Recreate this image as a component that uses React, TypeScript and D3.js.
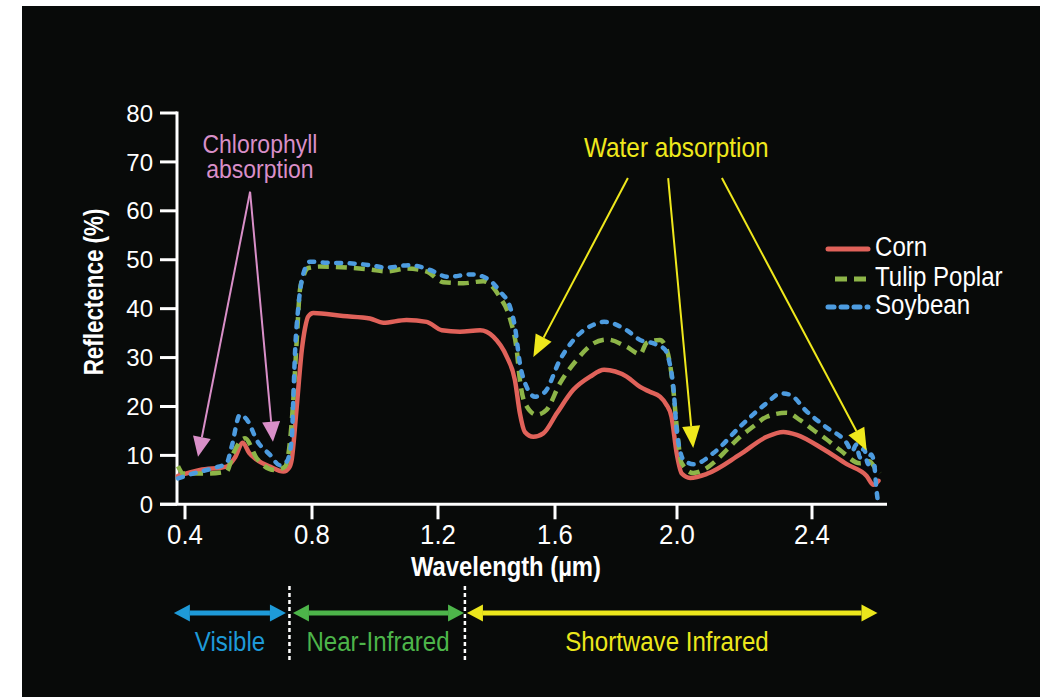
import React from "react";
import * as d3 from "d3";

const W = 1040;
const H = 697;

// ---------- data ----------
const xTickValues = [0.4, 0.8, 1.2, 1.6, 2.0, 2.4];
const yTickValues = [0, 10, 20, 30, 40, 50, 60, 70, 80];

const cornWl = [0.378,0.447,0.531,0.557,0.582,0.602,0.626,0.668,0.710,0.728,0.736,0.752,0.768,0.778,0.788,0.804,0.899,0.984,1.026,1.100,1.164,1.213,1.275,1.344,1.389,1.435,1.463,1.480,1.497,1.526,1.560,1.606,1.660,1.715,1.761,1.835,1.879,1.911,1.944,1.964,1.982,1.999,2.014,2.039,2.088,2.187,2.266,2.315,2.355,2.433,2.503,2.562,2.582,2.597];
const cornRef = [5.8,7.0,7.7,9.5,12.6,10.5,9.1,7.7,6.7,7.5,9.1,20,31.6,36,38.4,39.1,38.5,38.0,37.1,37.7,37.3,35.6,35.3,35.6,34.3,30.2,25.4,18.6,14.8,13.8,14.5,18.6,23.4,26.1,27.5,26.1,24.0,23.0,22.0,20.5,17.9,10.4,6.3,5.4,6.2,10.2,13.8,14.8,14.2,11.3,8.2,5.8,4.0,4.8];

const tulipWl = [0.378,0.395,0.468,0.531,0.552,0.589,0.626,0.683,0.715,0.731,0.741,0.752,0.762,0.775,0.788,0.825,0.910,0.984,1.037,1.100,1.164,1.218,1.287,1.355,1.412,1.446,1.469,1.480,1.497,1.537,1.571,1.616,1.671,1.726,1.770,1.835,1.879,1.901,1.944,1.967,1.988,1.999,2.014,2.048,2.078,2.118,2.147,2.187,2.226,2.266,2.325,2.365,2.404,2.433,2.483,2.542,2.570,2.591,2.601];
const tulipRef = [7.8,6.3,6.3,6.7,10.4,13.5,9.4,7.0,7.7,13.1,21.3,33.6,43.8,47,48.3,48.6,48.4,48.0,47.6,48.2,47.6,45.4,45.2,45.6,42.3,38.0,31.6,25.4,20.7,18.3,19.3,24.7,29.5,32.9,33.7,32.2,30.7,33.0,33.6,31.5,23.4,15.9,8.4,6.4,7.0,9.1,11.1,13.8,15.9,17.9,18.7,17.2,15.2,13.8,11.1,8.4,8.8,7.0,6.3];

const soyWl = [0.378,0.426,0.489,0.531,0.547,0.573,0.599,0.626,0.668,0.699,0.720,0.736,0.741,0.746,0.757,0.773,0.794,0.847,0.910,0.984,1.037,1.111,1.175,1.234,1.313,1.367,1.412,1.446,1.463,1.480,1.503,1.532,1.566,1.616,1.671,1.726,1.761,1.835,1.879,1.923,1.961,1.977,1.988,1.999,2.009,2.019,2.050,2.110,2.187,2.266,2.308,2.335,2.384,2.439,2.503,2.519,2.531,2.542,2.554,2.566,2.575,2.584,2.591,2.596];
const soyRef = [5.3,6.3,7.4,8.4,11.8,18.3,16.9,13.1,10.1,8.0,8.7,13.1,21.3,30.2,40.4,47.2,49.6,49.4,49.3,48.9,48.4,48.9,47.9,46.5,47.0,46.2,43.5,40.4,36.3,28.8,24.0,22.0,23.0,29.5,34.3,36.7,37.3,35.6,33.6,32.9,31.6,28.5,24.0,15.2,11.0,9.1,8.2,10.6,15.9,20.7,22.7,22.4,19.0,15.9,12.5,10.8,12.2,9.6,11.4,8.2,10.2,8.4,3.0,0.2];

const seriesNames = ["Corn", "Tulip Poplar", "Soybean"];

// spectral regions (µm)
const regionNames = ["Visible", "Near-Infrared", "Shortwave Infrared"];
const regionStart = [0.365, 0.740, 1.299];
const regionEnd = [0.718, 1.289, 2.594];
const regionBounds = [0.729, 1.292];

// annotations (data coordinates: µm, %)
const chloroApex = [0.605, 63.9];
const chloroTips = [[0.441, 9.7], [0.677, 12.8]];
const waterStarts = [[1.839, 66.7], [1.971, 66.7], [2.133, 66.7]];
const waterTips = [[1.526, 30.1], [2.048, 11.5], [2.562, 11.0]];

// ---------- styles ----------
const BG = "#080a09";
const SANS = "'Liberation Sans', Arial, Helvetica, sans-serif";
const seriesColors = ["#e0625a", "#8db548", "#4d9ce0"];
const PINK = "#d98fc8";
const YELLOW = "#efe81c";
const regionColors = ["#1e9ad8", "#4db54a", "#ece71c"];

const x = d3.scaleLinear().domain(xTickValues).range([185, 312, 438, 555, 677, 812]);
const y = d3.scaleLinear().domain([0, 80]).range([504.3, 113]);

function zip(a: number[], b: number[]) {
  return a.map((v, i) => [v, b[i]] as [number, number]);
}

const line = d3
  .line<[number, number]>()
  .x((d) => x(d[0]))
  .y((d) => y(d[1]))
  .curve(d3.curveMonotoneX);

function arrowHead(x1: number, y1: number, x2: number, y2: number, L: number, hw: number) {
  const dx = x2 - x1, dy = y2 - y1;
  const len = Math.hypot(dx, dy);
  const ux = dx / len, uy = dy / len;
  const bx = x2 - ux * L, by = y2 - uy * L;
  const nx = -uy, ny = ux;
  return {
    base: [bx, by],
    pts: `${x2},${y2} ${bx + nx * hw},${by + ny * hw} ${bx - nx * hw},${by - ny * hw}`,
  };
}

function Arrow({ from, to, color, width, L, hw }: any) {
  const x1 = x(from[0]), y1 = y(from[1]);
  const x2 = x(to[0]), y2 = y(to[1]);
  const h = arrowHead(x1, y1, x2, y2, L, hw);
  return (
    <g>
      <line x1={x1} y1={y1} x2={h.base[0]} y2={h.base[1]} stroke={color} strokeWidth={width} />
      <polygon points={h.pts} fill={color} />
    </g>
  );
}

// condensed text: horizontally compressed Liberation Sans
function CText({ x: tx, y: ty, sx = 0.86, rotate = 0, size, fill, anchor = "start", bold = false, children }: any) {
  return (
    <text
      transform={`translate(${tx},${ty}) rotate(${rotate}) scale(${sx},1)`}
      textAnchor={anchor}
      fill={fill}
      fontFamily={SANS}
      fontSize={size}
      fontWeight={bold ? "bold" : "normal"}
    >
      {children}
    </text>
  );
}

export default function App() {
  const series = [zip(cornWl, cornRef), zip(tulipWl, tulipRef), zip(soyWl, soyRef)];
  const dashes = [undefined, "11 7", "5 8.5"];
  const caps: any[] = ["round", "butt", "round"];
  const axisLeftX = 177;
  const y0 = y(0);
  const regionY = 613;

  return (
    <svg
      width={W}
      height={H}
      style={{ position: "absolute", left: 0, top: 0 }}
      xmlns="http://www.w3.org/2000/svg"
    >
      <rect x={0} y={0} width={W} height={H} fill="#ffffff" />
      <rect x={22} y={6} width={W - 22} height={H - 6} fill={BG} />

      {/* y axis */}
      <line x1={axisLeftX} y1={y(80) - 1.5} x2={axisLeftX} y2={y0} stroke="#fff" strokeWidth={3} />
      {yTickValues.map((t) => (
        <g key={"y" + t}>
          <line x1={160} x2={axisLeftX} y1={y(t)} y2={y(t)} stroke="#fff" strokeWidth={3} />
          <text
            x={153}
            y={y(t)}
            dy="0.36em"
            textAnchor="end"
            fill="#fff"
            fontFamily={SANS}
            fontSize={24}
          >
            {t}
          </text>
        </g>
      ))}

      {/* x axis */}
      <line x1={160} x2={887} y1={y0} y2={y0} stroke="#fff" strokeWidth={3} />
      {xTickValues.map((t) => (
        <g key={"x" + t}>
          <line x1={x(t)} x2={x(t)} y1={y0} y2={y0 + 15} stroke="#fff" strokeWidth={3} />
          <CText x={x(t)} y={544} sx={0.92} size={28} fill="#fff" anchor="middle">
            {d3.format(".1f")(t)}
          </CText>
        </g>
      ))}
      <CText x={506} y={576} sx={0.85} size={28} fill="#fff" anchor="middle" bold>
        Wavelength (µm)
      </CText>
      <CText x={103} y={292} sx={0.8} rotate={-90} size={28} fill="#fff" anchor="middle" bold>
        Reflectence (%)
      </CText>

      {/* series */}
      {series.map((s, i) => (
        <path
          key={seriesNames[i]}
          d={line(s) || ""}
          fill="none"
          stroke={seriesColors[i]}
          strokeWidth={4.5}
          strokeDasharray={dashes[i]}
          strokeLinecap={caps[i]}
          strokeLinejoin="round"
        />
      ))}

      {/* legend */}
      {seriesNames.map((n, i) => {
        const ly = [249, 279, 307][i];
        return (
          <g key={"lg" + n}>
            <line
              x1={i === 1 ? 835 : 828}
              x2={868}
              y1={ly}
              y2={ly}
              stroke={seriesColors[i]}
              strokeWidth={5}
              strokeDasharray={i === 0 ? undefined : i === 1 ? "12 7" : "6 7"}
              strokeLinecap={i === 1 ? "butt" : "round"}
            />
            <CText x={875} y={ly + 7} sx={0.86} size={28} fill="#fff">
              {n}
            </CText>
          </g>
        );
      })}

      {/* chlorophyll annotation */}
      <CText x={x(0.636)} y={y(71.8)} sx={0.92} size={25} fill={PINK} anchor="middle">
        Chlorophyll
      </CText>
      <CText x={x(0.636)} y={y(66.7)} sx={0.92} size={25} fill={PINK} anchor="middle">
        absorption
      </CText>
      {chloroTips.map((t, i) => (
        <Arrow key={"ca" + i} from={chloroApex} to={t} color={PINK} width={2} L={20} hw={9} />
      ))}

      {/* water annotation */}
      <CText x={x(1.695)} y={y(71.0)} sx={0.87} size={28} fill={YELLOW}>
        Water absorption
      </CText>
      {waterTips.map((t, i) => (
        <Arrow key={"wa" + i} from={waterStarts[i]} to={t} color={YELLOW} width={2} L={22} hw={9} />
      ))}

      {/* spectral regions */}
      {regionBounds.map((b, i) => (
        <line
          key={"rb" + i}
          x1={x(b)}
          x2={x(b)}
          y1={586}
          y2={660}
          stroke="#fff"
          strokeWidth={2.5}
          strokeDasharray="4 3"
        />
      ))}
      {regionNames.map((n, i) => {
        const xa = x(regionStart[i]);
        const xb = x(regionEnd[i]);
        const L = 16, hw = 8.5;
        return (
          <g key={"rg" + n}>
            <line x1={xa + L} x2={xb - L} y1={regionY} y2={regionY} stroke={regionColors[i]} strokeWidth={5} />
            <polygon points={`${xa},${regionY} ${xa + L},${regionY - hw} ${xa + L},${regionY + hw}`} fill={regionColors[i]} />
            <polygon points={`${xb},${regionY} ${xb - L},${regionY - hw} ${xb - L},${regionY + hw}`} fill={regionColors[i]} />
            <CText
              x={[230, 378, 667][i]}
              y={651}
              sx={0.86}
              size={28}
              fill={regionColors[i]}
              anchor="middle"
            >
              {n}
            </CText>
          </g>
        );
      })}
    </svg>
  );
}
